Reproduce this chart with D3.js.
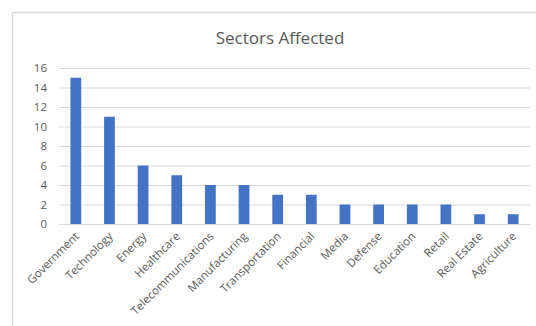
<!DOCTYPE html>
<html>
<head>
<meta charset="utf-8">
<script src="https://cdn.jsdelivr.net/npm/d3@7/dist/d3.min.js"></script>
<style>
  html, body { margin: 0; padding: 0; background: #fff; }
  svg { display: block; }
</style>
</head>
<body>
<svg id="chart" width="536" height="326"></svg>
<script>
// Number of incidents per affected sector
const sectors = ["Government", "Technology", "Energy", "Healthcare", "Telecommunications",
  "Manufacturing", "Transportation", "Financial", "Media", "Defense", "Education",
  "Retail", "Real Estate", "Agriculture"];
const counts = [15, 11, 6, 5, 4, 4, 3, 3, 2, 2, 2, 2, 1, 1];
const yTicks = [0, 2, 4, 6, 8, 10, 12, 14, 16];
const title = "Sectors Affected";

const font = "'Open Sans', 'Noto Sans', sans-serif";
const svg = d3.select("#chart");

// chart frame (runs off the right and bottom edges)
svg.append("rect")
  .attr("x", 12.5).attr("y", 12.5)
  .attr("width", 536).attr("height", 330)
  .attr("fill", "#fff").attr("stroke", "#d9d9d9").attr("stroke-width", 1.5);

const plot = { left: 59, right: 530, top: 68, bottom: 224 };

const x = d3.scaleBand().domain(sectors)
  .range([plot.left, plot.right]).paddingInner(0.68).paddingOuter(0.34);
const y = d3.scaleLinear().domain([0, 16]).range([plot.bottom, plot.top]);

svg.append("text")
  .attr("x", 280).attr("y", 44)
  .attr("text-anchor", "middle")
  .attr("font-family", font).attr("font-size", 17)
  .attr("fill", "#595959")
  .text(title);

// horizontal gridlines + value labels
const yAxis = d3.axisLeft(y).tickValues(yTicks)
  .tickSize(-(plot.right - plot.left)).tickPadding(12).tickFormat(d3.format("d"));
const gy = svg.append("g").attr("transform", `translate(${plot.left},0)`).call(yAxis);
gy.select(".domain").remove();
gy.selectAll(".tick line").attr("stroke", "#d9d9d9").attr("stroke-width", 1);
gy.selectAll(".tick text")
  .attr("font-family", font).attr("font-size", 11.5).attr("fill", "#595959");

// bars
svg.append("g").selectAll("rect")
  .data(sectors.map((s, i) => ({ s, v: counts[i] })))
  .join("rect")
  .attr("x", d => x(d.s))
  .attr("y", d => y(d.v))
  .attr("width", x.bandwidth())
  .attr("height", d => y(0) - y(d.v))
  .attr("fill", "#4472c4");

// category labels, slanted
const xAxis = d3.axisBottom(x).tickSize(0).tickPadding(0);
const gx = svg.append("g").attr("transform", `translate(0,${plot.bottom})`).call(xAxis);
gx.select(".domain").attr("stroke", "#d9d9d9").attr("stroke-width", 1);
gx.selectAll(".tick text")
  .attr("font-family", font).attr("font-size", 11.5).attr("fill", "#595959")
  .attr("text-anchor", "end")
  .attr("dy", null)
  .attr("transform", "translate(4,13) rotate(-45)");
</script>
</body>
</html>
